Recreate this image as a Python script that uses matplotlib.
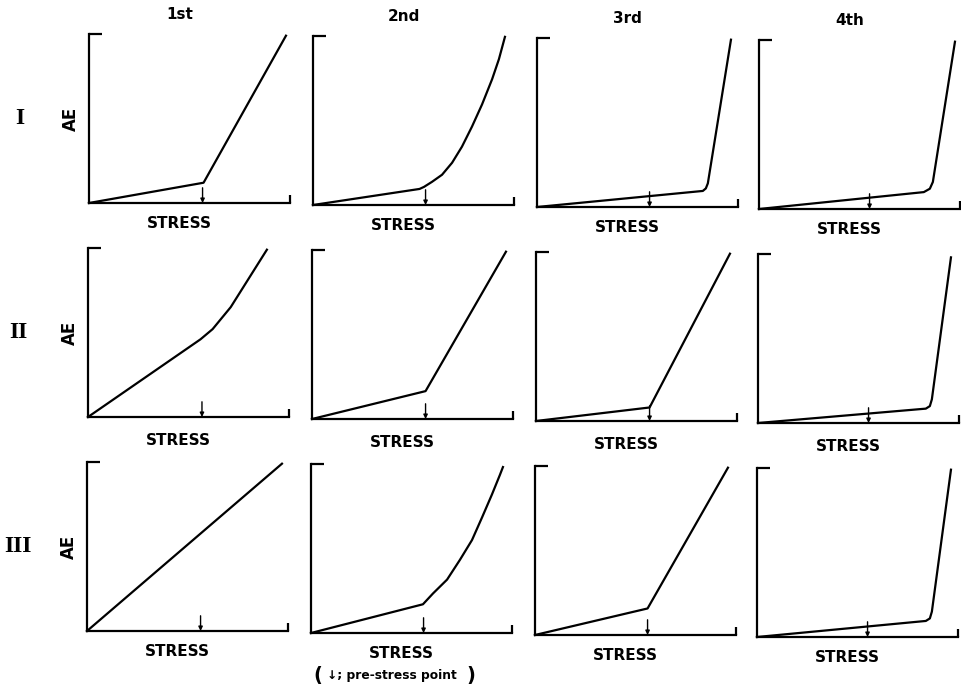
import matplotlib.pyplot as plt

# column / row labels
col_labels = ["1st", "2nd", "3rd", "4th"]
row_labels = ["I", "II", "III"]

# schematic AE-stress curves (fractions of each panel's axis span)
r1c1_x = [0, 0.57, 0.98]
r1c1_y = [0, 0.12, 0.99]
r1c2_x = [0, 0.53, 0.552, 0.592, 0.642, 0.692, 0.741, 0.791, 0.841, 0.891, 0.925, 0.955]
r1c2_y = [0, 0.095, 0.107, 0.137, 0.179, 0.25, 0.345, 0.464, 0.595, 0.744, 0.863, 0.995]
r1c3_x = [0, 0.825, 0.84, 0.85, 0.965]
r1c3_y = [0, 0.095, 0.11, 0.14, 0.99]
r1c4_x = [0, 0.82, 0.85, 0.865, 0.975]
r1c4_y = [0, 0.10, 0.12, 0.16, 0.99]

r2c1_x = [0, 0.56, 0.62, 0.71, 0.89]
r2c1_y = [0, 0.46, 0.52, 0.65, 0.99]
r2c2_x = [0, 0.565, 0.965]
r2c2_y = [0, 0.165, 0.99]
r2c3_x = [0, 0.565, 0.965]
r2c3_y = [0, 0.08, 0.99]
r2c4_x = [0, 0.835, 0.855, 0.865, 0.96]
r2c4_y = [0, 0.085, 0.10, 0.14, 0.98]

r3c1_x = [0, 0.97]
r3c1_y = [0, 0.99]
r3c2_x = [0, 0.557, 0.607, 0.677, 0.741, 0.801, 0.851, 0.90, 0.94, 0.955]
r3c2_y = [0, 0.17, 0.234, 0.316, 0.433, 0.55, 0.684, 0.819, 0.936, 0.982]
r3c3_x = [0, 0.56, 0.96]
r3c3_y = [0, 0.157, 0.99]
r3c4_x = [0, 0.84, 0.86, 0.87, 0.965]
r3c4_y = [0, 0.095, 0.11, 0.15, 0.99]

curves = [
    [(r1c1_x, r1c1_y), (r1c2_x, r1c2_y), (r1c3_x, r1c3_y), (r1c4_x, r1c4_y)],
    [(r2c1_x, r2c1_y), (r2c2_x, r2c2_y), (r2c3_x, r2c3_y), (r2c4_x, r2c4_y)],
    [(r3c1_x, r3c1_y), (r3c2_x, r3c2_y), (r3c3_x, r3c3_y), (r3c4_x, r3c4_y)],
]

# pre-stress point (arrow position on stress axis)
prestress = [
    [0.565, 0.56, 0.56, 0.55],
    [0.567, 0.565, 0.565, 0.55],
    [0.565, 0.56, 0.56, 0.55],
]

W, H = 962, 690
fig = plt.figure(figsize=(9.62, 6.9), dpi=100)

col_left = [89, 313, 537, 759]
row_base = [203, 417, 631]
stress_off = [-0.075, -0.095, -0.075]
pw, ph = 201, 169

for r in range(3):
    for c in range(4):
        left = col_left[c] - r
        base = row_base[r] + 2 * c
        ax = fig.add_axes([left / W, 1 - base / H, pw / W, ph / H])
        ax.set_xlim(0, 1)
        ax.set_ylim(0, 1)
        for s in ["top", "right"]:
            ax.spines[s].set_visible(False)
        for s in ["left", "bottom"]:
            ax.spines[s].set_linewidth(1.6)
            ax.spines[s].set_color("black")
        ax.set_xticks([])
        ax.set_yticks([])
        ax.patch.set_alpha(0)

        # small end marks of the frame
        ax.plot([0, 0.065], [1, 1], color="black", lw=1.6, clip_on=False, solid_capstyle="butt")
        ax.plot([1, 1], [0, 0.05], color="black", lw=1.6, clip_on=False, solid_capstyle="butt")

        x, y = curves[r][c]
        ax.plot(x, y, color="black", lw=1.6, clip_on=False, solid_joinstyle="round")

        p = prestress[r][c]
        ax.annotate("", xy=(p, 0.0), xytext=(p, 0.09),
                    arrowprops=dict(arrowstyle="-|>", color="black", lw=1.0,
                                    mutation_scale=6, shrinkA=0, shrinkB=0))

        ax.text(0.45, stress_off[r], "STRESS", transform=ax.transAxes, ha="center", va="top",
                fontsize=11, fontweight="bold")

        if c == 0:
            ax.text(-0.09, 0.5, "AE", transform=ax.transAxes, ha="center", va="center",
                    rotation=90, fontsize=12, fontweight="bold")
            ax.text(-0.345, 0.5, row_labels[r], transform=ax.transAxes, ha="center",
                    va="center", fontsize=17, fontweight="bold", family="Liberation Serif")

        if r == 0:
            ax.text(0.45, 1.07, col_labels[c], transform=ax.transAxes, ha="center",
                    va="bottom", fontsize=11, fontweight="bold")

# footnote
fig.text(318 / W, 1 - 675 / H, "(", ha="center", va="center", fontsize=14, fontweight="bold")
fig.text(327 / W, 1 - 675 / H, "\u2193; pre-stress point", ha="left", va="center",
         fontsize=8.8, fontweight="bold")
fig.text(471 / W, 1 - 675 / H, ")", ha="center", va="center", fontsize=14, fontweight="bold")

fig.savefig("out.png", dpi=100)
